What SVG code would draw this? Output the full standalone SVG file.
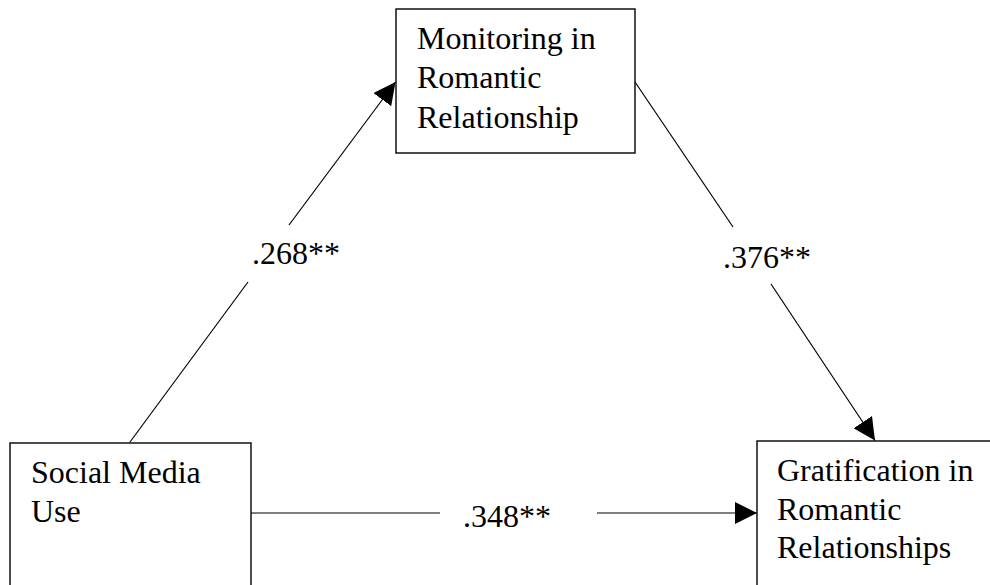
<svg xmlns="http://www.w3.org/2000/svg" width="990" height="585" viewBox="0 0 990 585">
  <style>
    .box { fill: #fff; stroke: #000; stroke-width: 1.4; }
    .edge { stroke: #000; stroke-width: 1.2; fill: none; }
    .lbl { font-family: "Liberation Serif", "Times New Roman", Tinos, "Nimbus Roman", "DejaVu Serif", serif; font-size: 32px; fill: #000; }
  </style>
  <defs>
    <marker id="arrow" viewBox="0 0 10 10" refX="10" refY="5" markerWidth="22" markerHeight="22" markerUnits="userSpaceOnUse" orient="auto">
      <path d="M0,0 L10,5 L0,10 z" fill="#000"/>
    </marker>
  </defs>
  <rect width="990" height="585" fill="#fff"/>

  <g id="connectors">
    <!-- Social Media Use -> Monitoring -->
    <line class="edge" x1="130" y1="442" x2="248" y2="282"/>
    <line class="edge" x1="289" y1="225" x2="395.5" y2="82" marker-end="url(#arrow)"/>
    <text class="lbl" x="252" y="264">.268**</text>
    <!-- Monitoring -> Gratification -->
    <line class="edge" x1="635" y1="82" x2="733" y2="227"/>
    <line class="edge" x1="771" y1="284" x2="875" y2="440.5" marker-end="url(#arrow)"/>
    <text class="lbl" x="723" y="268">.376**</text>
    <!-- Social Media Use -> Gratification -->
    <line class="edge" x1="251" y1="513" x2="440" y2="513"/>
    <line class="edge" x1="597" y1="513" x2="757" y2="513" marker-end="url(#arrow)"/>
    <text class="lbl" x="463" y="527">.348**</text>
  </g>

  <g id="monitoring">
    <rect class="box" x="396" y="9" width="239" height="144"/>
    <text class="lbl" x="417" y="49">Monitoring in</text>
    <text class="lbl" x="417" y="88">Romantic</text>
    <text class="lbl" x="417" y="128">Relationship</text>
  </g>

  <g id="social-media-use">
    <rect class="box" x="10" y="443" width="241" height="160"/>
    <text class="lbl" x="31" y="483">Social Media</text>
    <text class="lbl" x="31" y="522">Use</text>
  </g>

  <g id="gratification">
    <rect class="box" x="757" y="441" width="260" height="160"/>
    <text class="lbl" x="777" y="481">Gratification in</text>
    <text class="lbl" x="777" y="520">Romantic</text>
    <text class="lbl" x="777" y="558">Relationships</text>
  </g>
</svg>
